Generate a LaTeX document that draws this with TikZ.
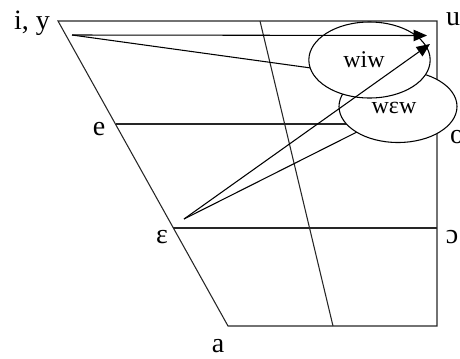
\documentclass[tikz,border=0pt]{standalone}
\usepackage{fontspec}
\setmainfont{Liberation Serif}
\usetikzlibrary{shapes.geometric,arrows.meta}
\begin{document}
\begin{tikzpicture}[x=0.75pt,y=-0.75pt,
  frame/.style={line width=0.8pt, draw=black!85},
  vlabel/.style={font=\fontsize{21}{24}\selectfont, inner sep=0pt, anchor=base},
  bubble/.style={ellipse, draw=black, line width=0.8pt, fill=white, inner sep=0pt},
  btext/.style={font=\fontsize{18}{20}\selectfont, inner sep=0pt},
  arr/.style={line width=0.8pt, -{Triangle[length=10pt,width=8.5pt]}},
  plain/.style={line width=0.8pt}]
\useasboundingbox (0,0) rectangle (460,358);
% frame corners
\coordinate (TL) at (58,21);
\coordinate (TR) at (437,21);
\coordinate (BR) at (437,326);
\coordinate (BL) at (228,326);
\coordinate (EL) at (116,124);
\coordinate (ER) at (437,124);
\coordinate (OL) at (173,228);
\coordinate (OR) at (437,228);
\coordinate (MT) at (260,21);
\coordinate (MB) at (333,326);
\draw[frame] (TL) -- (TR) -- (BR) -- (BL) -- cycle;
\draw[frame] (EL) -- (ER);
\draw[frame] (OL) -- (OR);
\draw[frame] (MT) -- (MB);
% vowel labels
\node[vlabel] (iy) at (32,29) {i, y};
\node[vlabel] (u) at (453,25) {u};
\node[vlabel] (e) at (99,135) {e};
\node[vlabel] (o) at (457,143) {o};
\node[vlabel] (eps) at (162,243) {ɛ};
\node[vlabel] (oo) at (452,243) {ɔ};
\node[vlabel] (a) at (218,352) {a};
% start points of the trajectories
\coordinate (s1) at (72,35);
\coordinate (s2) at (184,219);
\coordinate (h1) at (340,72);
\coordinate (h2) at (380,120.4);
\draw[plain] (s1) -- (h1);
\draw[plain] (s2) -- (h2);
% ellipses
\node[bubble, minimum width=88.5pt, minimum height=54pt] (wew) at (398,106.5) {};
\node[btext] (wewt) at (394,108) {wɛw};
\node[bubble, minimum width=91pt, minimum height=57pt] (wiw) at (369.5,60) {};
\node[btext] (wiwt) at (364,60) {wiw};
% arrow ends
\coordinate (t1) at (427,35.5);
\coordinate (t2) at (430,44);
\draw[arr] (s1) -- (t1);
\draw[arr] (s2) -- (t2);
\end{tikzpicture}
\end{document}
